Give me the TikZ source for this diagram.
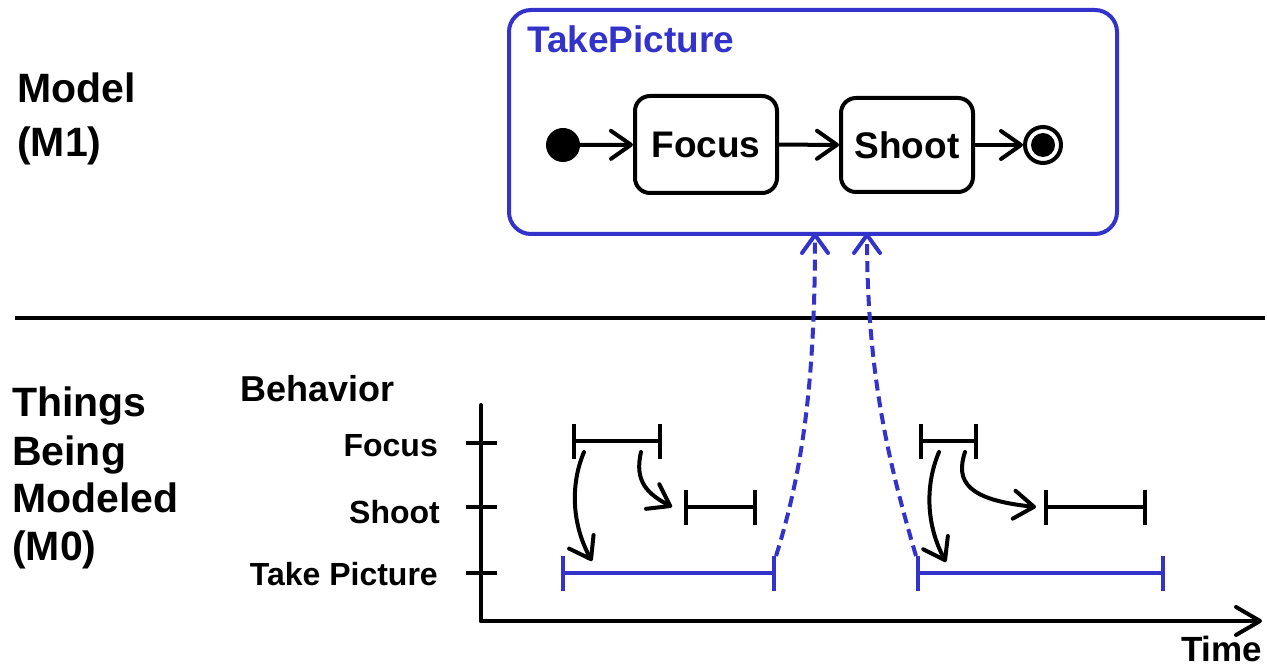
\documentclass[tikz,border=0pt]{standalone}
\usepackage{fontspec}
\setmainfont{Liberation Sans}
\usetikzlibrary{arrows.meta}
\definecolor{umlblue}{RGB}{51,51,204}
\tikzset{
  base/.style={line width=4pt, line cap=round, line join=round},
  tipopen/.style={-{Straight Barb[length=20pt,width=28pt,line cap=round,line join=round]}},
  statebox/.style={draw, line width=4pt, rounded corners=15pt, inner sep=0pt,
    font=\fontsize{37}{44}\selectfont\bfseries},
  bigtxt/.style={anchor=base west, inner sep=0pt, font=\fontsize{41}{48}\selectfont\bfseries},
  ticktxt/.style={anchor=base east, inner sep=0pt, font=\fontsize{32}{38}\selectfont\bfseries},
  interval/.style={line width=4pt, {Bar[width=35pt]}-{Bar[width=35pt]}},
  realize/.style={draw=umlblue, line width=4pt, dash pattern=on 11pt off 6pt,
    -{Straight Barb[length=18pt,width=26pt,line cap=round,line join=round]}},
}
\begin{document}
\begin{tikzpicture}[x=1pt,y=-1pt]
\useasboundingbox (0,0) rectangle (1267,668);

% ---- M1 level ----
\node[draw=umlblue, line width=4pt, rounded corners=22pt, minimum width=608pt,
  minimum height=224pt, anchor=north west, inner sep=0pt] (tpbox) at (507,8) {};
\node[anchor=base west, inner sep=0pt, text=umlblue,
  font=\fontsize{37}{44}\selectfont\bfseries] (tplabel) at (527,53) {TakePicture};

\node[circle, fill=black, minimum size=34pt, inner sep=0pt] (init) at (563,145) {};
\node[statebox, minimum width=142pt, minimum height=97pt] (focus) at (706,144.5) {Focus};
\node[statebox, minimum width=132pt, minimum height=94pt] (shoot) at (907,145) {Shoot};
\node[circle, draw, line width=4pt, minimum size=36pt, inner sep=0pt] (final) at (1043,145) {};
\node[circle, fill=black, minimum size=24pt, inner sep=0pt] (finalin) at (final.center) {};

\draw[base, tipopen] (init) -- (focus);
\draw[base, tipopen] (focus) -- (shoot);
\draw[base, tipopen] (shoot) -- (final);

\node[bigtxt] (modelA) at (17,103) {Model};
\node[bigtxt] (modelB) at (17,157) {(M1)};

% ---- separator ----
\coordinate (sepL) at (15,318);
\coordinate (sepR) at (1265,318);
\draw[line width=4pt] (sepL) -- (sepR);

% ---- M0 level ----
\node[bigtxt] (thA) at (12,417) {Things};
\node[bigtxt] (thB) at (12,465) {Being};
\node[bigtxt] (thC) at (12,512) {Modeled};
\node[bigtxt] (thD) at (12,560) {(M0)};

\node[anchor=base west, inner sep=0pt, font=\fontsize{36}{42}\selectfont\bfseries]
  (behav) at (240,402) {Behavior};

% axes
\coordinate (axTop) at (481,405);
\coordinate (axO) at (481,621);
\coordinate (axEnd) at (1262,621);
\draw[base] (axTop) -- (axO);
\draw[base, -{Straight Barb[length=24pt,width=28pt,line cap=round,line join=round]}] (axO) -- (axEnd);
\node[anchor=base west, inner sep=0pt, font=\fontsize{35}{42}\selectfont\bfseries]
  (time) at (1181,661) {Time};

% ticks
\coordinate (tfL) at (466,443); \coordinate (tfR) at (497,443);
\coordinate (tsL) at (466,507); \coordinate (tsR) at (497,507);
\coordinate (ttL) at (466,573); \coordinate (ttR) at (497,573);
\draw[line width=4pt] (tfL) -- (tfR);
\draw[line width=4pt] (tsL) -- (tsR);
\draw[line width=4pt] (ttL) -- (ttR);
\node[ticktxt] (lfocus) at (438,456) {Focus};
\node[ticktxt] (lshoot) at (440,523) {Shoot};
\node[ticktxt] (ltake) at (438,585) {Take Picture};

% intervals
\coordinate (f1a) at (572,441); \coordinate (f1b) at (662,441);
\coordinate (s1a) at (684,507); \coordinate (s1b) at (757,507);
\coordinate (t1a) at (561,573); \coordinate (t1b) at (776,573);
\coordinate (f2a) at (919,441); \coordinate (f2b) at (978,441);
\coordinate (s2a) at (1044,507); \coordinate (s2b) at (1147,507);
\coordinate (t2a) at (916,573); \coordinate (t2b) at (1165,573);
\draw[interval] (f1a) -- (f1b);
\draw[interval] (s1a) -- (s1b);
\draw[interval, draw=umlblue] (t1a) -- (t1b);
\draw[interval] (f2a) -- (f2b);
\draw[interval] (s2a) -- (s2b);
\draw[interval, draw=umlblue] (t2a) -- (t2b);

% causal arrows
\coordinate (a1s) at (584,452); \coordinate (a1e) at (592,561);
\coordinate (b1s) at (641,452); \coordinate (b1e) at (672,507);
\coordinate (c1s) at (939,452); \coordinate (c1e) at (946,562);
\coordinate (d1s) at (965,452); \coordinate (d1e) at (1036,507);
\draw[base, tipopen] (a1s) .. controls (570,485) and (572,525) .. (a1e);
\draw[base, tipopen] (b1s) .. controls (634,482) and (648,494) .. (b1e);
\draw[base, tipopen] (c1s) .. controls (925,485) and (926,525) .. (c1e);
\draw[base, tipopen] (d1s) .. controls (955,482) and (968,500) .. (d1e);

% realization links
\coordinate (r1s) at (776,556); \coordinate (r1e) at (815,233);
\coordinate (r2s) at (916,556); \coordinate (r2e) at (867,233);
\draw[realize] (r1s) .. controls (803,470) and (815,380) .. (r1e);
\draw[realize] (r2s) .. controls (891,470) and (867,380) .. (r2e);
\end{tikzpicture}
\end{document}
